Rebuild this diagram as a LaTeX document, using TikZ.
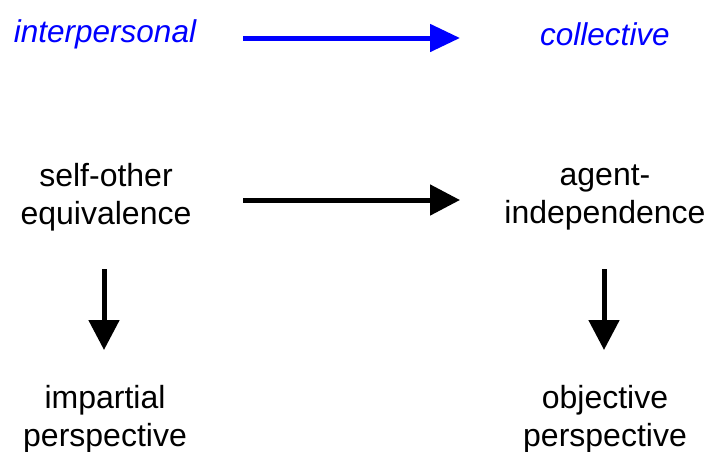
\documentclass[tikz,border=0pt]{standalone}
\usepackage{fontspec}
\setmainfont{Liberation Sans}
\usetikzlibrary{arrows.meta}
\begin{document}
\begin{tikzpicture}[x=1pt,y=-1pt,
  label/.style={font=\fontsize{32}{38}\selectfont, align=center, inner sep=0pt},
  level/.style={label, font=\fontsize{31.5}{38}\selectfont\itshape, text=blue},
  bigarrow/.style={line width=5pt, -{Triangle[length=30pt,width=30pt]}},
  bluearrow/.style={bigarrow, blue, -{Triangle[length=30pt,width=27pt]}}]
  \useasboundingbox (0,0) rectangle (708,451);
  % column headings
  \node[level] (inter) at (105,34) {interpersonal};
  \node[level] (coll)  at (605,34) {collective};
  % concepts
  \node[label] (soe) at (106,197) {self-other\\equivalence};
  \node[label] (ai)  at (605,197) {agent-\\independence};
  \node[label] (imp) at (105,419) {impartial\\perspective};
  \node[label] (obj) at (605,419) {objective\\perspective};
  % arrow end points
  \coordinate (b1) at (243,38);  \coordinate (b2) at (460,38);
  \coordinate (h1) at (243,200); \coordinate (h2) at (460,200);
  \coordinate (l1) at (104,269); \coordinate (l2) at (104,350);
  \coordinate (r1) at (604,269); \coordinate (r2) at (604,350);
  \draw[bluearrow] (b1) -- (b2);
  \draw[bigarrow] (h1) -- (h2);
  \draw[bigarrow] (l1) -- (l2);
  \draw[bigarrow] (r1) -- (r2);
\end{tikzpicture}
\end{document}
